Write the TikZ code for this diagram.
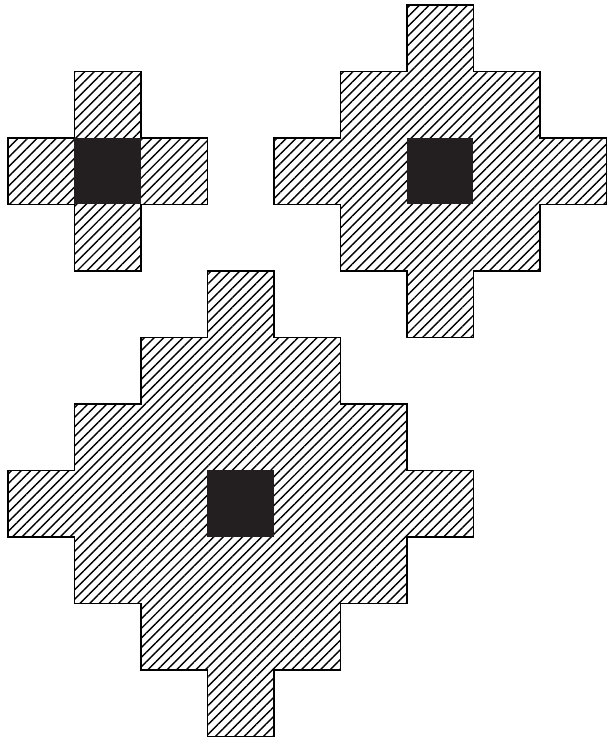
\documentclass[tikz,border=0pt]{standalone}
\usepackage{tikz}
\usetikzlibrary{patterns.meta}
\definecolor{coreblk}{HTML}{231F20}
\tikzstyle{hatched}=[draw=black,line width=0.7pt,line join=miter,% staircase outline
pattern={Lines[angle=45,distance=2.9pt,line width=0.6pt]}]
\tikzstyle{core}=[fill=coreblk,draw=none]
% staircase diamond of radius #3 round the cell with lower left corner (#1,#2)
\newcommand{\cellblob}[3]{%
\path[hatched] (#1,#2+#3+1) -- ++(1,0)
  \foreach \i in {1,...,#3} {-- ++(0,-1) -- ++(1,0)} -- ++(0,-1)
  \foreach \i in {1,...,#3} {-- ++(-1,0) -- ++(0,-1)} -- ++(-1,0)
  \foreach \i in {1,...,#3} {-- ++(0,1) -- ++(-1,0)} -- ++(0,1)
  \foreach \i in {1,...,#3} {-- ++(1,0) -- ++(0,1)} -- cycle;
\fill[core] (#1,#2) rectangle ++(1,1);}

\begin{document}
\begin{tikzpicture}
\useasboundingbox (-0.12,-11.068) rectangle (9.023,0.075);

\cellblob{1}{-3}{1}
\cellblob{6}{-3}{2}
\cellblob{3}{-8}{3}

\end{tikzpicture}
\end{document}
